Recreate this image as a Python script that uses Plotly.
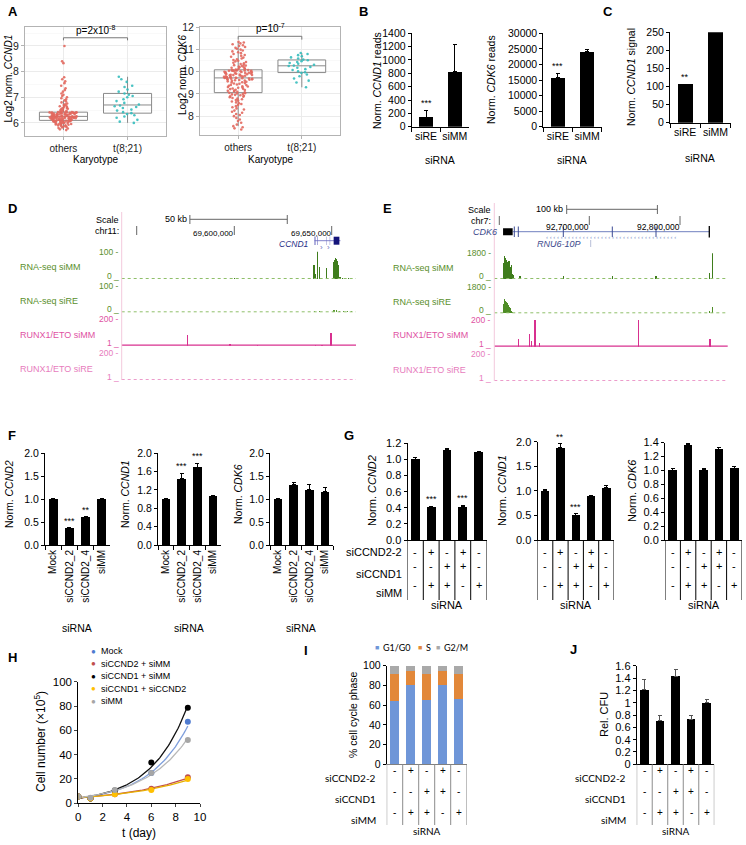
import numpy as np
import plotly.graph_objects as go

W, H = 746, 845
FONT = "Liberation Sans, Arial, sans-serif"
CAL = "Lato, Liberation Sans, sans-serif"

# ---------------- DATA ----------------
# Panel A (log2 normalised expression, per patient)
a_ccnd1_others = [5.72, 5.75, 5.78, 5.80, 5.82, 5.84, 5.85, 5.87, 5.88, 5.90, 5.91, 5.92, 5.93, 5.94,
                  5.95, 5.96, 5.97, 5.98, 5.99, 6.00, 6.00, 6.01, 6.02, 6.03, 6.03, 6.04, 6.05, 6.05,
                  6.06, 6.06, 6.07, 6.07, 6.08, 6.08, 6.09, 6.09, 6.10,
                  6.10, 6.11, 6.11, 6.12, 6.12, 6.13, 6.13, 6.14, 6.14, 6.15, 6.15, 6.16, 6.16, 6.17,
                  6.17, 6.17, 6.18, 6.18, 6.19, 6.19, 6.19, 6.20, 6.20, 6.21, 6.21, 6.21, 6.22, 6.22,
                  6.22, 6.23, 6.23, 6.23, 6.24, 6.24, 6.24, 6.25, 6.25, 6.25,
                  6.26, 6.26, 6.27, 6.27, 6.28, 6.28, 6.29, 6.29, 6.30, 6.30, 6.31, 6.31, 6.32, 6.32,
                  6.33, 6.33, 6.34, 6.34, 6.35, 6.35, 6.36, 6.36, 6.37, 6.37, 6.38, 6.38, 6.39, 6.39,
                  6.40, 6.40, 6.40, 6.41, 6.41, 6.41, 6.42, 6.42, 6.42, 6.42,
                  6.43, 6.45, 6.47, 6.49, 6.51, 6.53, 6.55, 6.57, 6.58, 6.60, 6.62, 6.65, 6.66, 6.68,
                  6.70, 6.73, 6.76, 6.80, 6.84, 6.88, 6.92, 6.96, 7.00, 7.05, 7.10, 7.15, 7.22, 7.28,
                  7.35, 7.45, 7.55, 7.62, 7.70, 7.78, 8.33, 8.40, 9.00]
a_ccnd1_t821 = [6.00, 6.05, 6.12, 6.20, 6.25, 6.30, 6.35, 6.38, 6.42, 6.48, 6.52, 6.58, 6.62, 6.65,
                6.68, 6.72, 6.78, 6.85, 6.92, 7.00, 7.05, 7.10, 7.15, 7.22, 7.30, 7.40, 7.45, 7.60,
                7.70, 7.80]
a_cdk6_others = [7.40, 7.45, 7.50, 7.55, 7.62, 7.70, 7.78, 7.85, 7.92, 8.00, 8.05, 8.10, 8.15, 8.20,
                 8.25, 8.30, 8.35, 8.40, 8.45, 8.50, 8.55, 8.58, 8.62, 8.66, 8.70, 8.73, 8.76, 8.79,
                 8.82, 8.85, 8.88, 8.90, 8.92, 8.94, 8.96, 8.98, 9.00, 9.02, 9.04, 9.05,
                 9.07, 9.10, 9.11, 9.14, 9.15, 9.18, 9.19, 9.22, 9.23, 9.25, 9.28, 9.29, 9.31, 9.34,
                 9.35, 9.37, 9.40, 9.41, 9.43, 9.46, 9.47, 9.49, 9.52, 9.53, 9.55, 9.57, 9.59, 9.60,
                 9.62, 9.63, 9.64, 9.65, 9.66, 9.67, 9.68, 9.69, 9.70, 9.71, 9.72, 9.72,
                 9.73, 9.74, 9.75, 9.76, 9.77, 9.78, 9.79, 9.80, 9.81, 9.82, 9.83, 9.84, 9.85, 9.86,
                 9.87, 9.88, 9.89, 9.90, 9.91, 9.92, 9.93, 9.94, 9.95, 9.96, 9.97, 9.98, 9.99, 10.00,
                 10.01, 10.02, 10.03, 10.04, 10.05, 10.05, 10.06, 10.06, 10.07, 10.07, 10.08, 10.08,
                 10.10, 10.12, 10.14, 10.16, 10.18, 10.20, 10.22, 10.24, 10.26, 10.28, 10.30, 10.32,
                 10.35, 10.38, 10.41, 10.44, 10.47, 10.50, 10.53, 10.56, 10.60, 10.64, 10.68, 10.72,
                 10.76, 10.80, 10.84, 10.88, 10.92, 10.96, 11.00, 11.04, 11.08, 11.12, 11.16, 11.20,
                 11.24, 11.28, 11.32, 11.35]
a_cdk6_t821 = [9.30, 9.52, 9.60, 9.70, 9.80, 9.88, 9.95, 9.98, 10.02, 10.08, 10.12, 10.18, 10.22,
               10.26, 10.28, 10.32, 10.36, 10.40, 10.44, 10.48, 10.52, 10.55, 10.60, 10.65, 10.70,
               10.75, 10.80, 10.85]
a_cats = ["others", "t(8;21)"]

# Panels B, C
b_cats = ["siRE", "siMM"]
b_ccnd1 = [140, 820]
b_ccnd1_err = [110, 410]
b_ccnd1_sig = ["***", ""]
b_cdk6 = [15800, 24000]
b_cdk6_err = [1300, 800]
b_cdk6_sig = ["***", ""]
c_ccnd1 = [107, 250]
c_ccnd1_sig = ["**", ""]

# Panel D (chr11, CCND1 locus) genome tracks
d_rna_simm_pos = [69600000, 69640900, 69641500, 69642600, 69643630, 69647430, 69650800, 69651200,
                  69651600, 69652000, 69652400, 69652800, 69653200, 69653600, 69654300, 69655500,
                  69657000, 69658500, 69660000]
d_rna_simm_h = [2, 51, 18, 110, 43, 39, 57, 62, 70, 76, 72, 66, 52, 40, 8, 5, 4, 5, 3]
d_rna_sire_pos = [69630300, 69641000, 69643600, 69651200, 69652500, 69654000, 69656000, 69658000,
                  69660000]
d_rna_sire_h = [3, 6, 4, 7, 8, 6, 5, 5, 4]
d_runx_simm_pos = [69575900, 69597800, 69612000, 69641500, 69645000, 69649640]
d_runx_simm_h = [81, 15, 5, 8, 6, 99]
# Panel E (chr7, CDK6 locus)
e_rna_simm_pos = [92605500, 92606500, 92607500, 92608500, 92609500, 92610500, 92611500, 92612500,
                  92613500, 92614500, 92615500, 92616500, 92623600, 92671330, 92725360, 92773540,
                  92832300, 92835600]
e_rna_simm_h = [1100, 1610, 1450, 1300, 1215, 1000, 1250, 865, 750, 950, 350, 300, 234, 230, 230,
                230, 400, 1850]
e_rna_sire_pos = [92605500, 92606500, 92607500, 92608500, 92609500, 92610500, 92611500, 92612500,
                  92613500, 92614500, 92615500, 92832300, 92835600]
e_rna_sire_h = [600, 945, 850, 790, 700, 560, 450, 340, 250, 150, 110, 180, 450]
e_runx_simm_pos = [92621720, 92633850, 92636000, 92640130, 92644870, 92754020, 92833080, 92834000]
e_runx_simm_h = [55, 92, 40, 210, 25, 210, 55, 30]

# Panel F
f_cats = ["Mock", "siCCND2_2", "siCCND2_4", "siMM"]
f_ccnd2 = [1.0, 0.37, 0.60, 1.0]
f_ccnd2_err = [0.01, 0.01, 0.02, 0.02]
f_ccnd2_sig = ["", "***", "**", ""]
f_ccnd1 = [1.0, 1.44, 1.70, 1.06]
f_ccnd1_err = [0.01, 0.13, 0.08, 0.01]
f_ccnd1_sig = ["", "***", "***", ""]
f_cdk6 = [1.0, 1.31, 1.21, 1.16]
f_cdk6_err = [0.01, 0.05, 0.11, 0.10]

# Panels G, I, J: siRNA combinations
combo_rows = ["siCCND2-2", "siCCND1", "siMM"]
combo_siccnd2 = ["-", "+", "-", "+", "-"]
combo_siccnd1 = ["-", "-", "+", "+", "-"]
combo_simm = ["-", "+", "+", "-", "+"]
g_ccnd2 = [1.0, 0.41, 1.12, 0.41, 1.09]
g_ccnd2_err = [0.02, 0.01, 0.02, 0.02, 0.01]
g_ccnd2_sig = ["", "***", "", "***", ""]
g_ccnd1 = [1.0, 1.88, 0.50, 0.89, 1.06]
g_ccnd1_err = [0.03, 0.08, 0.03, 0.02, 0.04]
g_ccnd1_sig = ["", "**", "***", "", ""]
g_cdk6 = [1.0, 1.37, 1.01, 1.30, 1.03]
g_cdk6_err = [0.03, 0.02, 0.02, 0.03, 0.03]

# Panel H
h_days = [0, 1, 3, 6, 9]
h_names = ["Mock", "siCCND2 + siMM", "siCCND1 + siMM", "siCCND1 + siCCND2", "siMM"]
h_mock = [5.5, 4.0, 10.0, 25.0, 67.0]
h_siccnd2_simm = [5.5, 4.0, 7.5, 12.0, 21.5]
h_siccnd1_simm = [5.5, 4.0, 10.5, 33.5, 78.5]
h_siccnd1_siccnd2 = [5.5, 4.0, 7.5, 11.0, 20.0]
h_simm = [5.5, 4.5, 11.0, 25.0, 52.0]

# Panel I
i_g1 = [64.0, 80.0, 65.0, 80.5, 66.0]
i_s = [27.5, 14.5, 27.0, 14.0, 26.0]
i_g2m = [8.5, 5.5, 8.0, 5.5, 8.0]

# Panel J
j_cfu = [1.21, 0.71, 1.43, 0.73, 1.0]
j_cfu_err = [0.16, 0.08, 0.11, 0.06, 0.05]

# ---------------- helpers ----------------
def X(p):
    return p / W


def Y(p):
    return 1 - p / H


layout = dict(width=W, height=H, margin=dict(l=0, r=0, t=0, b=0, pad=0, autoexpand=False),
              template="none", paper_bgcolor="white",
              plot_bgcolor="white", showlegend=False, barmode="stack",
              font=dict(family=FONT, size=10, color="black"))
traces, annotations, shapes = [], [], []


def add_axes(n, x0, x1, ytop, ybot, xcfg, ycfg):
    sx = "" if n == 1 else str(n)
    layout["xaxis" + sx] = dict(domain=[X(x0), X(x1)], anchor="y" + sx, fixedrange=True,
                                automargin=False, **xcfg)
    layout["yaxis" + sx] = dict(domain=[Y(ybot), Y(ytop)], anchor="x" + sx, fixedrange=True,
                                automargin=False, **ycfg)
    return "x" + sx, "y" + sx


def pt(x, y, s, size=10, xa="center", ya="middle", color="black", angle=0, family=FONT):
    annotations.append(dict(x=X(x), y=Y(y), xref="paper", yref="paper", text=s, showarrow=False,
                            xanchor=xa, yanchor=ya, textangle=angle,
                            font=dict(size=size, color=color, family=family)))


def hline(x0, x1, y, color="black", width=1, dash="solid", xref="paper"):
    xx0, xx1 = (X(x0), X(x1)) if xref == "paper" else (x0, x1)
    shapes.append(dict(type="line", xref=xref, yref="paper", x0=xx0, x1=xx1, y0=Y(y), y1=Y(y),
                       line=dict(color=color, width=width, dash=dash)))


def vline(x, y0, y1, color="black", width=1, xref="paper"):
    xx = X(x) if xref == "paper" else x
    shapes.append(dict(type="line", xref=xref, yref="paper", x0=xx, x1=xx, y0=Y(y0), y1=Y(y1),
                       line=dict(color=color, width=width)))


def rect(x0, x1, y0, y1, color, xref):
    shapes.append(dict(type="rect", xref=xref, yref="paper", x0=x0, x1=x1, y0=Y(y1), y1=Y(y0),
                       fillcolor=color, line=dict(width=0)))


def letter(x, y, s):
    pt(x, y, "<b>%s</b>" % s, size=13, xa="left", ya="top")


def bar_x(cats, size=10, labels=True, angle=0):
    return dict(type="category", categoryorder="array", categoryarray=cats,
                range=[-0.5, len(cats) - 0.5], showline=True, linecolor="black", linewidth=1,
                ticks="outside", tickson="boundaries", ticklen=4, tickcolor="black",
                showgrid=False, zeroline=False, tickfont=dict(size=size), tickangle=angle,
                showticklabels=labels)


def num_x(n):
    return dict(range=[-0.5, n - 0.5], showline=True, linecolor="black", linewidth=1,
                showticklabels=False, ticks="", showgrid=False, zeroline=False)


def bar_y(top, dtick, fmt, size=10):
    return dict(range=[0, top], dtick=dtick, tick0=0, tickformat=fmt, showline=True,
                linecolor="black", linewidth=1, ticks="outside", ticklen=3, tickcolor="black",
                showgrid=False, zeroline=False, tickfont=dict(size=size))


def bars(xa, ya, cats, vals, err=None, sig=None, width=0.55, color="black", star=9, ecolor="black"):
    tr = go.Bar(x=cats, y=vals, xaxis=xa, yaxis=ya, width=width,
                marker=dict(color=color, line=dict(width=0)))
    if err is not None:
        tr.error_y = dict(type="data", array=err, arrayminus=[0] * len(err), symmetric=False,
                          color=ecolor, thickness=1, width=2)
    traces.append(tr)
    if sig:
        errs = err if err is not None else [0] * len(vals)
        for c, v, e, s in zip(cats, vals, errs, sig):
            if s:
                annotations.append(dict(x=c, y=v + e, xref=xa, yref=ya, text=s, showarrow=False,
                                        yanchor="bottom", yshift=0, font=dict(size=star)))


def combo_table(xa, rows_y, top, bottom, label_x, siRNA_y, lcolor, fam, size, labels=True):
    for ry, row, name in zip(rows_y, [combo_siccnd2, combo_siccnd1, combo_simm], combo_rows):
        for i, s in enumerate(row):
            annotations.append(dict(x=i, y=Y(ry), xref=xa, yref="paper", text=s, showarrow=False,
                                    font=dict(size=size, family=FONT, color="black")))
        if labels:
            pt(label_x, ry, name, size=size, xa="right", family=fam)
    for i in range(len(combo_simm) + 1):
        vline(i - 0.5, top, bottom, color=lcolor, width=1, xref=xa)
    annotations.append(dict(x=2, y=Y(siRNA_y), xref=xa, yref="paper", text="siRNA",
                            showarrow=False, font=dict(size=size, family=fam)))


# ---------------- Panel A ----------------
grid = "#ebebeb"
bord = "#b3b3b3"


def gg_x():
    return dict(type="category", categoryorder="array", categoryarray=a_cats, range=[-0.6, 1.6],
                showline=True, mirror=True, linecolor=bord, linewidth=1, ticks="outside",
                ticklen=3, tickcolor=bord, showgrid=True, gridcolor=grid, gridwidth=1,
                zeroline=False, tickfont=dict(size=10, color="#222"))


def gg_y(r, dt):
    return dict(range=r, dtick=dt, showline=True, mirror=True, linecolor=bord, linewidth=1,
                ticks="outside", ticklen=3, tickcolor=bord, showgrid=True, gridcolor=grid,
                zeroline=False, tickfont=dict(size=10.5, color="#222"),
                minor=dict(dtick=dt / 2, showgrid=True, gridcolor="#f4f4f4", gridwidth=0.5))


def box(xa, ya, cat, vals, color):
    traces.append(go.Box(x=[cat] * len(vals), y=vals, xaxis=xa, yaxis=ya, boxpoints="all",
                         jitter=0.6, pointpos=0, width=0.75, whiskerwidth=0,
                         fillcolor="rgba(255,255,255,0)", line=dict(color="#8a8a8a", width=1),
                         marker=dict(color=color, size=2.6, opacity=0.9)))


xa, ya = add_axes(1, 25, 166, 27, 136, gg_x(), gg_y([5.49, 9.74], 1))
box(xa, ya, "others", a_ccnd1_others, "#e2685e")
box(xa, ya, "t(8;21)", a_ccnd1_t821, "#35bcbc")
for s in [dict(x0=0, x1=1, y0=9.32, y1=9.32), dict(x0=0, x1=0, y0=9.22, y1=9.32),
          dict(x0=1, x1=1, y0=9.22, y1=9.32)]:
    shapes.append(dict(type="line", xref=xa, yref=ya, line=dict(color="#777", width=1), **s))
annotations.append(dict(x=0.5, y=9.32, xref=xa, yref=ya, text="p=2x10<sup>-8</sup>",
                        showarrow=False, yanchor="bottom", font=dict(size=10)))
pt(8.5, 79, "Log2 norm. <i>CCND1</i>", size=10, angle=-90)
pt(95, 160, "Karyotype", size=10)

xa, ya = add_axes(2, 200, 340, 27, 135, gg_x(), gg_y([7.15, 12.02], 1))
box(xa, ya, "others", a_cdk6_others, "#e2685e")
box(xa, ya, "t(8;21)", a_cdk6_t821, "#35bcbc")
for s in [dict(x0=0, x1=1, y0=11.6, y1=11.6), dict(x0=0, x1=0, y0=11.45, y1=11.6),
          dict(x0=1, x1=1, y0=11.45, y1=11.6)]:
    shapes.append(dict(type="line", xref=xa, yref=ya, line=dict(color="#777", width=1), **s))
annotations.append(dict(x=0.5, y=11.6, xref=xa, yref=ya, text="p=10<sup>-7</sup>",
                        showarrow=False, yanchor="bottom", font=dict(size=10)))
pt(182, 75, "Log2 norm. <i>CDK6</i>", size=10, angle=-90)
pt(270, 160, "Karyotype", size=10)

# ---------------- Panels B, C ----------------
xa, ya = add_axes(3, 411.7, 469, 33.3, 126.7, bar_x(b_cats, 10.5), bar_y(1400, 200, "d", 10.5))
bars(xa, ya, b_cats, b_ccnd1, b_ccnd1_err, b_ccnd1_sig, width=0.5)
pt(377, 81, "Norm. <i>CCND1</i> reads", size=10.5, angle=-90)
pt(440, 160, "siRNA", size=10.5)

xa, ya = add_axes(4, 543.3, 601.7, 33.3, 126.7, bar_x(b_cats, 10.5), bar_y(30000, 5000, "d", 10.5))
bars(xa, ya, b_cats, b_cdk6, b_cdk6_err, b_cdk6_sig, width=0.5)
pt(491, 80, "Norm. <i>CDK6</i> reads", size=10.5, angle=-90)
pt(572, 160, "siRNA", size=10.5)

xa, ya = add_axes(5, 670, 730.7, 32.3, 122.7, bar_x(b_cats, 10.5), bar_y(250, 50, "d", 10.5))
bars(xa, ya, b_cats, c_ccnd1, None, c_ccnd1_sig, width=0.5)
pt(631, 77, "Norm. <i>CCND1</i> signal", size=10.5, angle=-90)
pt(700, 158, "siRNA", size=10.5)

# ---------------- Panels D, E (genome browser) ----------------
RNA_C = "#3f7d1c"
RNA_L = "#5a8f2c"
RUNX_C = "#d8308f"
RUNX_L = "#e052a3"
RUNX_L2 = "#e77cbd"
GENE_C = "#2a2f86"


def track(n, x0, x1, g0, g1, top, base, ymax, pos, hts, bw, color):
    xa, ya = add_axes(n, x0, x1, top, base,
                      dict(range=[g0, g1], visible=False, showgrid=False, zeroline=False),
                      dict(range=[0, ymax], visible=False, showgrid=False, zeroline=False))
    if pos:
        traces.append(go.Bar(x=pos, y=hts, width=bw, xaxis=xa, yaxis=ya,
                             marker=dict(color=color, line=dict(width=0))))
    return xa


D_G0, D_G1 = 69542200, 69662475
dx1 = track(6, 121.7, 356, D_G0, D_G1, 251.7, 279, 100, d_rna_simm_pos, d_rna_simm_h, 650, RNA_C)
track(7, 121.7, 356, D_G0, D_G1, 286, 312.3, 100, d_rna_sire_pos, d_rna_sire_h, 650, "#5c9a33")
track(8, 121.7, 356, D_G0, D_G1, 319.3, 345.7, 200, d_runx_simm_pos, d_runx_simm_h, 650, RUNX_C)
track(9, 121.7, 356, D_G0, D_G1, 353.3, 380, 200, [], [], 650, RUNX_C)

E_G0, E_G1 = 92595260, 92852590
ex1 = track(10, 494.3, 727.7, E_G0, E_G1, 253.3, 279, 1800, e_rna_simm_pos, e_rna_simm_h, 1300, RNA_C)
track(11, 494.3, 727.7, E_G0, E_G1, 286.7, 313.3, 1800, e_rna_sire_pos, e_rna_sire_h, 1300, "#4f8d26")
track(12, 494.3, 727.7, E_G0, E_G1, 320, 346.7, 200, e_runx_simm_pos, e_runx_simm_h, 1300, RUNX_C)
track(13, 494.3, 727.7, E_G0, E_G1, 354, 381, 200, [], [], 1300, RUNX_C)

for (x0, x1, lab_x, tick_x, rows) in [
        (121.7, 356, 18, 120.5, [(251.7, 279, "RNA-seq siMM", "100", RNA_L, "rna"),
                                 (286, 312.3, "RNA-seq siRE", "100", RNA_L, "rna"),
                                 (319.3, 345.7, "RUNX1/ETO siMM", "200", RUNX_L, "mm"),
                                 (353.3, 380, "RUNX1/ETO siRE", "200", RUNX_L2, "re")]),
        (494.3, 727.7, 390.7, 493.3, [(253.3, 279, "RNA-seq siMM", "1800", RNA_L, "rna"),
                                      (286.7, 313.3, "RNA-seq siRE", "1800", RNA_L, "rna"),
                                      (320, 346.7, "RUNX1/ETO siMM", "200", RUNX_L, "mm"),
                                      (354, 381, "RUNX1/ETO siRE", "200", RUNX_L2, "re")])]:
    for top, base, name, mx, col, kind in rows:
        pt(lab_x, (top + base) / 2 + 2, name, size=9, xa="left", color=col)
        pt(tick_x, top, mx + " -", size=8.5, xa="right", color=col)
        if kind == "rna":
            pt(tick_x, base - 3, "0 _", size=8.5, xa="right", color=col)
            hline(x0, x1, base - 0.5, color="#8fbf6a", width=1, dash="dot")
        else:
            pt(tick_x, base - 3, "1 _", size=8.5, xa="right", color=col)
            hline(x0, x1, base - 0.5, color=RUNX_C if kind == "mm" else "#ec9ccb",
                  width=1.3 if kind == "mm" else 1, dash="solid" if kind == "mm" else "dot")
    vline(x0, 212 if x0 < 200 else 203, rows[-1][1], color="#f3c9dc", width=1)

# D header: scale + ruler + CCND1 gene
pt(121, 220, "Scale", size=9, xa="right")
pt(121, 231, "chr11:", size=9, xa="right")
pt(189, 219.3, "50 kb", size=9, xa="right")
hline(69577200, 69627200, 219.3, color="#666", width=1, xref=dx1)
vline(69577200, 215, 224, color="#666", xref=dx1)
vline(69627200, 215, 224, color="#666", xref=dx1)
vline(69549900, 226, 235, color="#666", xref=dx1)
for g, lab in [(69600000, "69,600,000"), (69650000, "69,650,000")]:
    vline(g, 226, 235, color="#666", xref=dx1)
    annotations.append(dict(x=g, y=Y(227.5), xref=dx1, yref="paper", text=lab, showarrow=False,
                            xanchor="right", xshift=2, font=dict(size=8)))
pt(311, 243.5, "<i>CCND1</i>", size=8.5, xa="right", color=GENE_C)
hline(69641156, 69654474, 240.7, color="#8383cc", width=1, xref=dx1)
for e0, e1 in [(69641156, 69641700), (69642500, 69642800), (69647300, 69647500), (69649000, 69649200)]:
    rect(e0, e1, 236.5, 245, "#6b6bc0", dx1)
rect(69651000, 69653950, 236.7, 244.7, "#14147a", dx1)
for g in [69645000, 69648200]:
    annotations.append(dict(x=g, y=Y(240.7), xref=dx1, yref="paper", text="›", showarrow=False,
                            font=dict(size=8, color="#7070c0")))

# E header: scale + ruler + CDK6 gene
pt(493.3, 210, "Scale", size=9, xa="right")
pt(493.3, 221, "chr7:", size=9, xa="right")
pt(565, 209.3, "100 kb", size=9, xa="right")
hline(92675080, 92775080, 209.3, color="#666", width=1, xref=ex1)
vline(92675080, 205, 214, color="#666", xref=ex1)
vline(92775080, 205, 214, color="#666", xref=ex1)
vline(92600775, 216, 225, color="#666", xref=ex1)
for g, lab in [(92700000, "92,700,000"), (92800000, "92,800,000")]:
    vline(g, 216, 225, color="#666", xref=ex1)
    annotations.append(dict(x=g, y=Y(220.5), xref=ex1, yref="paper", text=lab, showarrow=False,
                            xanchor="right", xshift=2, font=dict(size=8.5)))
pt(499.3, 231.7, "<i>CDK6</i>", size=9, xa="right", color="#3c4a8c")
hline(92615500, 92832300, 231.7, color="#7080bf", width=1, xref=ex1)
rect(92604921, 92615500, 228.3, 235.2, "black", ex1)
for g in [92617310, 92621720, 92671330, 92725360, 92773540]:
    vline(g, 226.5, 237, color="#3b4a94", width=1, xref=ex1)
vline(92832300, 226, 237.5, color="black", width=1.3, xref=ex1)
annotations.append(dict(x=92725000, y=Y(231.7), xref=ex1, yref="paper",
                        text="‹ " * 36, showarrow=False, font=dict(size=6, color="#8090c8")))
pt(583, 244, "<i>RNU6-10P</i>", size=9, xa="right", color="#3c4a8c")
vline(92701540, 240, 247, color="#b8bfd8", width=1, xref=ex1)

# ---------------- Panel F ----------------
xa, ya = add_axes(14, 45, 110, 453.3, 545, bar_x(f_cats, 10, True, -90), bar_y(2.0, 0.5, ".1f", 10.5))
bars(xa, ya, f_cats, f_ccnd2, f_ccnd2_err, f_ccnd2_sig, width=0.55)
pt(9, 494, "Norm. <i>CCND2</i>", size=10.5, angle=-90)
pt(77, 628.3, "siRNA", size=10.5)

xa, ya = add_axes(15, 158, 221, 453.3, 545, bar_x(f_cats, 10, True, -90), bar_y(2.0, 0.4, ".1f", 10.5))
bars(xa, ya, f_cats, f_ccnd1, f_ccnd1_err, f_ccnd1_sig, width=0.55)
pt(125, 494, "Norm. <i>CCND1</i>", size=10.5, angle=-90)
pt(189, 628.3, "siRNA", size=10.5)

xa, ya = add_axes(16, 270, 333, 453.3, 545, bar_x(f_cats, 10, True, -90), bar_y(2.0, 0.5, ".1f", 10.5))
bars(xa, ya, f_cats, f_cdk6, f_cdk6_err, None, width=0.55)
pt(238, 494, "Norm. <i>CDK6</i>", size=10.5, angle=-90)
pt(301, 628.3, "siRNA", size=10.5)

# ---------------- Panel G ----------------
idx = list(range(len(combo_simm)))
g_rows = [552.3, 574, 593.3]
xa, ya = add_axes(17, 407.5, 486.5, 443.3, 540, num_x(5), bar_y(1.2, 0.2, ".1f", 11))
bars(xa, ya, idx, g_ccnd2, g_ccnd2_err, g_ccnd2_sig, width=0.55)
combo_table(xa, g_rows, 540, 600, 404, 612.7, "black", FONT, 11)
pt(372, 491, "Norm. <i>CCND2</i>", size=11, angle=-90)

xa, ya = add_axes(18, 537.5, 614, 441.7, 540, num_x(5), bar_y(2.0, 0.5, ".1f", 11))
bars(xa, ya, idx, g_ccnd1, g_ccnd1_err, g_ccnd1_sig, width=0.55)
combo_table(xa, g_rows, 540, 600, 0, 612.7, "black", FONT, 11, labels=False)
pt(502, 491, "Norm. <i>CCND1</i>", size=11, angle=-90)

xa, ya = add_axes(19, 665, 742, 442.5, 540, num_x(5), bar_y(1.4, 0.2, ".1f", 11))
bars(xa, ya, idx, g_cdk6, g_cdk6_err, None, width=0.55)
combo_table(xa, g_rows, 540, 600, 0, 612.7, "black", FONT, 11, labels=False)
pt(632, 491, "Norm. <i>CDK6</i>", size=11, angle=-90)

# ---------------- Panel H ----------------
h_series = [h_mock, h_siccnd2_simm, h_siccnd1_simm, h_siccnd1_siccnd2, h_simm]
h_cols = ["#4f7bd0", "#c0504d", "#000000", "#ffc000", "#a6a6a6"]
h_fit_cols = ["#7f9fdc", "#c0504d", "#111111", "#e8b000", "#b8b8b8"]
xa, ya = add_axes(20, 78.3, 200, 681.7, 803.3,
                  dict(range=[0, 10], dtick=2, showline=True, linecolor="black", ticks="outside",
                       ticklen=3, showgrid=False, zeroline=False, tickfont=dict(size=11.5)),
                  dict(range=[0, 100], dtick=20, showline=True, linecolor="black", ticks="outside",
                       ticklen=3, showgrid=False, zeroline=False, tickfont=dict(size=11.5)))
xs = np.linspace(0, 9, 80)
for vals, col, fcol in zip(h_series, h_cols, h_fit_cols):
    b, a = np.polyfit(h_days, np.log(vals), 1)
    traces.append(go.Scatter(x=xs, y=np.exp(a + b * xs), mode="lines", xaxis=xa, yaxis=ya,
                             line=dict(color=fcol, width=1.3)))
for vals, col in zip(h_series, h_cols):
    traces.append(go.Scatter(x=h_days, y=vals, mode="markers", xaxis=xa, yaxis=ya,
                             marker=dict(color=col, size=6)))
for k, (name, col) in enumerate(zip(h_names, h_cols)):
    yy = 651 + k * 12.6
    pt(93.3, yy, "●", size=8, color=col)
    pt(98.5, yy, name, size=9, xa="left")
pt(40, 742, "Cell number (×10<sup>5</sup>)", size=12, angle=-90)
pt(139, 833, "t (day)", size=12)

# ---------------- Panel I ----------------
xa, ya = add_axes(21, 386.7, 466.7, 665.7, 764.3, num_x(5), bar_y(100, 20, "d", 10.5))
bars(xa, ya, idx, i_g1, None, None, width=0.58, color="#6f96d8")
bars(xa, ya, idx, i_s, None, None, width=0.58, color="#e2883a")
bars(xa, ya, idx, i_g2m, None, None, width=0.58, color="#a9a9a9")
layout["xaxis21"]["linecolor"] = "#808080"
combo_table(xa, [778.3, 799.3, 820], 764.3, 825, 378.3, 839.3, "#8c8c8c", CAL, 10)
pt(353, 715, "% cell cycle phase", size=10.5, angle=-90)
for sx, col, lab in [(377.3, "#6f96d8", "G1/G0"), (420, "#e2883a", "S"), (438.3, "#a9a9a9", "G2/M")]:
    pt(sx, 647.5, "■", size=7, color=col)
    pt(sx + 4, 647.5, lab, size=9, xa="left", family=CAL)

# ---------------- Panel J ----------------
xa, ya = add_axes(22, 636.7, 714.3, 665.7, 764.3, num_x(5), bar_y(1.6, 0.2, "", 11))
bars(xa, ya, idx, j_cfu, j_cfu_err, None, width=0.55, ecolor="#555")
combo_table(xa, [778.3, 799.3, 820], 764.3, 825, 628.3, 839.3, "#8c8c8c", CAL, 10)
pt(604, 715, "Rel. CFU", size=11, angle=-90)

# ---------------- panel letters ----------------
for x, y, s in [(6, 2, "A"), (357, 2, "B"), (601, 2, "C"), (6, 199, "D"), (381, 199, "E"),
                (6, 426, "F"), (342, 426, "G"), (6, 648, "H"), (302, 641, "I"), (568, 640, "J")]:
    letter(x, y, s)

layout["annotations"] = annotations
layout["shapes"] = shapes
fig = go.Figure(data=traces, layout=layout)
fig.write_html("out.html", config={"displayModeBar": False, "staticPlot": True},
               post_script="document.body.style.margin='0px';document.body.style.padding='0px';")
